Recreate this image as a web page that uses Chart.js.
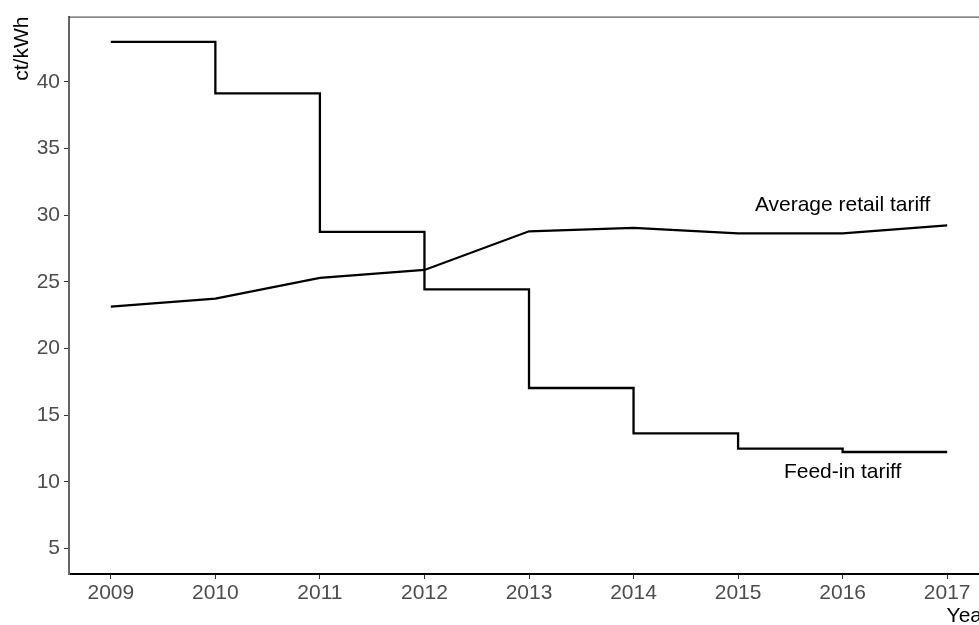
<!DOCTYPE html>
<html>
<head>
<meta charset="utf-8">
<title>Feed-in tariff vs average retail tariff</title>
<script src="https://cdn.jsdelivr.net/npm/chart.js@4.4.1/dist/chart.umd.min.js"></script>
<style>
  html, body { margin: 0; padding: 0; overflow: hidden; background: #fff; }
  canvas { display: block; }
</style>
</head>
<body>
<canvas id="tariff-chart" width="990" height="630"></canvas>
<script>
  // values (ct/kWh)
  var years = [2009, 2010, 2011, 2012, 2013, 2014, 2015, 2016, 2017];
  var feedIn = [43.0, 39.15, 28.75, 24.45, 17.05, 13.65, 12.5, 12.25, 12.25];
  var retail = [23.15, 23.75, 25.3, 25.9, 28.8, 29.05, 28.65, 28.65, 29.25];
  var yTicks = [5, 10, 15, 20, 25, 30, 35, 40];
  var xTicks = [2009, 2010, 2011, 2012, 2013, 2014, 2015, 2016, 2017];

  var FONT = "'Liberation Sans', Arial, sans-serif";
  var TICK_COLOR = '#4d4d4d';

  function toPoints(xs, ys) {
    return xs.map(function (x, i) { return { x: x, y: ys[i] }; });
  }

  // direct labels on the lines + the top edge of the panel
  var panelDecor = {
    id: 'panelDecor',
    afterDatasetsDraw: function (chart) {
      var ctx = chart.ctx;
      var area = chart.chartArea;
      var xs = chart.scales.x;
      var ys = chart.scales.y;

      ctx.save();
      ctx.strokeStyle = '#333';
      ctx.lineWidth = 1;
      ctx.beginPath();
      ctx.moveTo(area.left, area.top + 0.5);
      ctx.lineTo(area.right, area.top + 0.5);
      ctx.stroke();

      ctx.fillStyle = '#000';
      ctx.font = '21px ' + FONT;
      ctx.textAlign = 'center';
      ctx.textBaseline = 'alphabetic';
      ctx.fillText('Average retail tariff', xs.getPixelForValue(2016), ys.getPixelForValue(30.3));
      ctx.fillText('Feed-in tariff', xs.getPixelForValue(2016), ys.getPixelForValue(10.28));
      ctx.restore();
    }
  };

  new Chart(document.getElementById('tariff-chart'), {
    type: 'line',
    data: {
      datasets: [{
        label: 'Feed-in tariff',
        data: toPoints(years, feedIn),
        borderColor: '#000',
        borderWidth: 2.3,
        pointRadius: 0,
        stepped: 'before',
        fill: false
      }, {
        label: 'Average retail tariff',
        data: toPoints(years, retail),
        borderColor: '#000',
        borderWidth: 2.3,
        pointRadius: 0,
        tension: 0,
        fill: false
      }]
    },
    options: {
      responsive: false,
      animation: false,
      events: [],
      layout: { padding: { left: 0, right: 1, top: 16, bottom: 0 } },
      plugins: {
        legend: { display: false },
        tooltip: { enabled: false }
      },
      scales: {
        x: {
          type: 'linear',
          min: 2008.6,
          max: 2017.4,
          afterBuildTicks: function (scale) {
            scale.ticks = xTicks.map(function (v) { return { value: v }; });
          },
          afterFit: function (scale) { scale.height = 56; },
          grid: { drawOnChartArea: false, drawTicks: true, tickLength: 5, color: '#333', lineWidth: 1 },
          border: { display: true, color: '#000', width: 2 },
          ticks: {
            color: TICK_COLOR,
            font: { family: FONT, size: 21 },
            padding: 2,
            maxRotation: 0,
            autoSkip: false,
            callback: function (v) { return String(v); }
          },
          title: {
            display: true,
            text: 'Year',
            align: 'end',
            color: '#000',
            font: { family: FONT, size: 21 },
            padding: { top: 0, bottom: 1 }
          }
        },
        y: {
          min: 3.1,
          max: 44.9,
          afterBuildTicks: function (scale) {
            scale.ticks = yTicks.map(function (v) { return { value: v }; });
          },
          afterFit: function (scale) { scale.width = 69; },
          grid: { drawOnChartArea: false, drawTicks: true, tickLength: 5, color: '#333', lineWidth: 1 },
          border: { display: true, color: '#666', width: 2 },
          ticks: {
            color: TICK_COLOR,
            font: { family: FONT, size: 21 },
            padding: 4,
            autoSkip: false
          },
          title: {
            display: true,
            text: 'ct/kWh',
            align: 'end',
            color: '#000',
            font: { family: FONT, size: 21 },
            padding: { top: 10, bottom: 0 }
          }
        }
      }
    },
    plugins: [panelDecor]
  });
</script>
</body>
</html>
